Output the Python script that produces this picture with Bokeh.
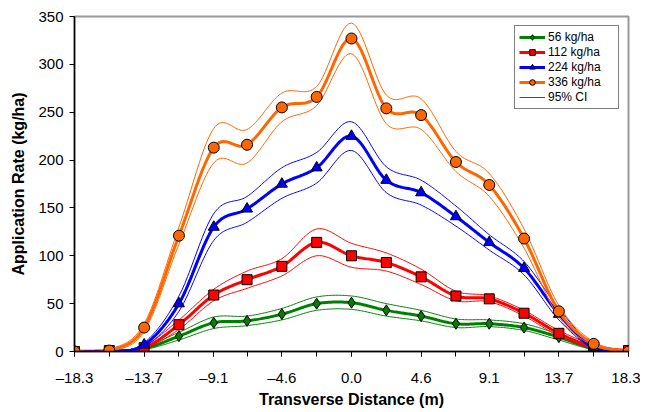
import numpy as np
from bokeh.plotting import figure
from bokeh.models import FixedTicker, Legend, LegendItem, Range1d
from bokeh.embed import file_html
from bokeh.resources import INLINE

# Transverse distance (m)
dist = [-18.3, -16.0, -13.7, -11.4, -9.1, -6.9, -4.6, -2.3, 0.0,
        2.3, 4.6, 6.9, 9.1, 11.4, 13.7, 16.0, 18.3]

# Application rates (kg/ha)
r56 = [0, 0, 3, 16, 30, 32, 39, 50, 51, 43, 37, 29, 29, 25, 15, 3, 0]
r56_lo = [0, 0, 2, 12, 24, 27, 33, 43, 44, 37, 32, 25, 26, 22, 12, 2, 0]
r56_hi = [0, 0, 5, 20, 36, 37, 45, 57, 58, 50, 43, 34, 33, 29, 18, 5, 1]

r112 = [0, 1, 4, 28, 59, 75, 89, 114, 100, 93, 78, 58, 55, 40, 19, 5, 1]
r112_lo = [0, 0, 3, 23, 53, 66, 79, 100, 88, 84, 70, 53, 52, 37, 16, 3, 0]
r112_hi = [0, 1, 6, 33, 65, 84, 97, 128, 113, 103, 86, 63, 58, 43, 22, 7, 1]

r224 = [0, 0, 7, 50, 130, 149, 175, 192, 225, 179, 166, 141, 114, 87, 39, 4, 0]
r224_lo = [0, 0, 5, 42, 116, 135, 160, 176, 210, 166, 153, 131, 106, 80, 33, 3, 0]
r224_hi = [0, 0, 9, 58, 144, 162, 192, 208, 240, 193, 179, 152, 122, 94, 45, 6, 1]

r336 = [0, 1, 25, 121, 213, 216, 255, 266, 327, 254, 247, 198, 174, 118, 42, 8, 0]
r336_lo = [0, 0, 21, 112, 197, 197, 240, 257, 311, 238, 232, 188, 162, 108, 36, 6, 0]
r336_hi = [0, 2, 29, 130, 233, 232, 270, 277, 343, 268, 264, 209, 186, 128, 48, 10, 1]

x_ticks = [-18.3, -13.7, -9.1, -4.6, 0.0, 4.6, 9.1, 13.7, 18.3]
y_ticks = [0, 50, 100, 150, 200, 250, 300, 350]


def smooth(xs, ys, n=24):
    xs = np.asarray(xs, float)
    ys = np.asarray(ys, float)
    P = np.column_stack([xs, ys])
    out = []
    m = len(P)
    for i in range(m - 1):
        p0 = P[max(i - 1, 0)]
        p1 = P[i]
        p2 = P[i + 1]
        p3 = P[min(i + 2, m - 1)]
        c1 = p1 + (p2 - p0) / 6.0
        c2 = p2 - (p3 - p1) / 6.0
        t = np.linspace(0, 1, n, endpoint=(i == m - 2))[:, None]
        seg = ((1 - t) ** 3) * p1 + 3 * ((1 - t) ** 2) * t * c1 + 3 * (1 - t) * t ** 2 * c2 + t ** 3 * p2
        out.append(seg)
    s = np.vstack(out)
    return s[:, 0], s[:, 1]


FONT = "Liberation Sans"

p = figure(width=640, height=410, output_backend="svg", toolbar_location=None,
           x_range=Range1d(-18.3, 18.3), y_range=Range1d(0, 350),
           min_border_left=74, min_border_right=12, min_border_top=16, min_border_bottom=58)

p.xgrid.visible = False
p.ygrid.visible = False
p.outline_line_color = "#999999"
p.outline_line_width = 2

p.xaxis.ticker = FixedTicker(ticks=x_ticks, minor_ticks=dist)
p.yaxis.ticker = FixedTicker(ticks=y_ticks)
p.xaxis.major_label_overrides = {t: ("\u2013%.1f" % abs(t) if t < 0 else "%.1f" % t) for t in x_ticks}
for ax in (p.xaxis[0], p.yaxis[0]):
    ax.axis_line_color = "black"
    ax.axis_line_width = 1.5
    ax.major_tick_line_color = "black"
    ax.major_tick_out = 5
    ax.major_tick_in = 0
    ax.minor_tick_line_color = "black"
    ax.minor_tick_out = 5
    ax.minor_tick_in = 0
    ax.major_label_text_font = FONT
    ax.major_label_text_font_size = "15px"
    ax.major_label_text_color = "black"
    ax.axis_label_text_font = FONT
    ax.axis_label_text_font_size = "16px"
    ax.axis_label_text_font_style = "bold"
    ax.axis_label_text_color = "black"
p.yaxis.minor_tick_line_color = None
p.xaxis.axis_label = "Transverse Distance (m)"
p.yaxis.axis_label = "Application Rate (kg/ha)"
p.xaxis.major_label_standoff = 12
p.xaxis.axis_label_standoff = 2
p.yaxis.major_label_standoff = 6
p.yaxis.axis_label_standoff = 8

series = [
    ("56 kg/ha", r56, r56_lo, r56_hi, "#008000", "diamond", 11),
    ("112 kg/ha", r112, r112_lo, r112_hi, "#FF0000", "square", 10),
    ("224 kg/ha", r224, r224_lo, r224_hi, "#0000FF", "triangle", 11),
    ("336 kg/ha", r336, r336_lo, r336_hi, "#FF6600", "circle", 11),
]

items = []
ci_first = None
for label, ys, lo, hi, col, mk, sz in series:
    for band in (lo, hi):
        bx, by = smooth(dist, band)
        r = p.line(bx, by, line_color=col, line_width=1)
        if ci_first is None:
            ci_first = r
    sx, sy = smooth(dist, ys)
    lr = p.line(sx, sy, line_color=col, line_width=3)
    mr = p.scatter(dist, ys, marker=mk, size=sz, fill_color=col, line_color="black", line_width=1)
    items.append(LegendItem(label=label, renderers=[lr, mr]))

items.append(LegendItem(label="95% CI", renderers=[ci_first]))

legend = Legend(items=items, location="top_right")
legend.margin = 9
legend.border_line_color = "black"
legend.border_line_width = 1
legend.label_text_font = FONT
legend.label_text_font_size = "12px"
legend.label_text_color = "black"
legend.glyph_width = 26
legend.glyph_height = 14
legend.label_standoff = 3
legend.label_height = 14
legend.spacing = 1
legend.padding = 4
legend.background_fill_alpha = 1
legend.label_width = 66
p.add_layout(legend, "center")

open("out.html", "w").write(file_html(p, INLINE))
